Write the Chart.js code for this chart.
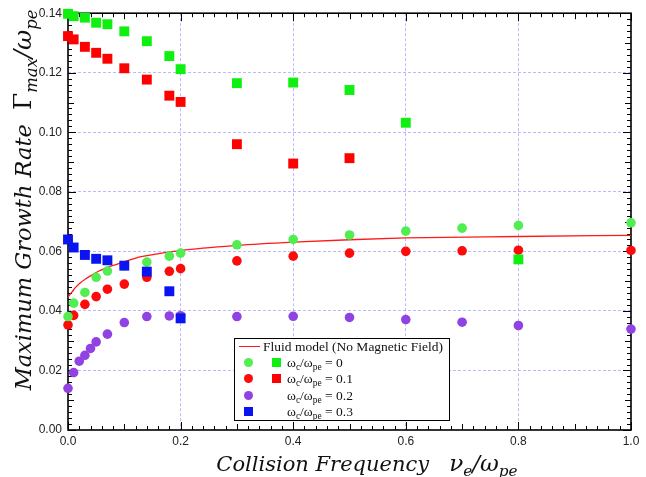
<!DOCTYPE html>
<html>
<head>
<meta charset="utf-8">
<title>Maximum growth rate vs collision frequency</title>
<script src="https://cdn.jsdelivr.net/npm/chart.js@4"></script>
<style>
  html, body { margin: 0; padding: 0; background: #fff; }
  #wrap { position: relative; width: 646px; height: 477px; overflow: hidden; }
  #growthChart { position: absolute; left: 0; top: 0; }
  .axisTitle {
    position: absolute; font-family: 'DejaVu Serif', serif; font-style: italic;
    color: #111; white-space: nowrap; text-align: center;
  }
  .axisTitle sub { font-size: 0.66em; vertical-align: -0.35em; }
  .axisTitle .m { font-size: 1.1em; }
  .up { font-style: normal; }
  #xTitle { left: 167px; top: 448px; width: 400px; height: 30px; line-height: 30px; font-size: 21px; }
  #yTitle { left: -177px; top: 184px; width: 400px; height: 32px; line-height: 32px; font-size: 22.5px; transform: rotate(-90deg); }
  #legend {
    position: absolute; left: 234px; top: 338px; width: 214px; height: 81px;
    border: 1.5px solid #000; background: #fff;
    font-family: 'Liberation Serif', serif; font-size: 13.5px; color: #111;
  }
  #legend .row { position: absolute; left: 0; height: 16px; line-height: 16px; white-space: nowrap; }
  #legend .txt { position: absolute; top: 0; }
  #legend .txt sub { font-size: 0.7em; vertical-align: -0.3em; }
  #legend .ln { position: absolute; left: 4px; top: 7px; width: 21px; height: 1.3px; background: #ff1a1a; }
  #legend .dot { position: absolute; width: 9px; height: 9px; border-radius: 50%; top: 3px; left: 9px; }
  #legend .sq { position: absolute; width: 9px; height: 9px; top: 3px; }
</style>
</head>
<body>
<div id="wrap">
  <canvas id="growthChart" width="646" height="477"></canvas>
  <div id="xTitle" class="axisTitle">Collision Frequency&nbsp;&nbsp;&nbsp;<span class="m">ν<sub>e</sub>/ω<sub>pe</sub></span></div>
  <div id="yTitle" class="axisTitle">Maximum Growth Rate&nbsp;&nbsp;<span class="m"><span class="up">Γ</span><sub>max</sub>/ω<sub>pe</sub></span></div>
  <div id="legend">
    <div class="row" style="top:0px"><div class="ln"></div><div class="txt" style="left:28px">Fluid model (No Magnetic Field)</div></div>
    <div class="row" style="top:16px"><div class="dot" style="background:#50ee50"></div><div class="sq" style="left:37px;background:#10f010"></div><div class="txt" style="left:52px">ω<sub>c</sub>/ω<sub>pe</sub> = 0</div></div>
    <div class="row" style="top:32px"><div class="dot" style="background:#ff0a0a"></div><div class="sq" style="left:37px;background:#ff0000"></div><div class="txt" style="left:52px">ω<sub>c</sub>/ω<sub>pe</sub> = 0.1</div></div>
    <div class="row" style="top:49px"><div class="dot" style="background:#9142e3"></div><div class="txt" style="left:52px">ω<sub>c</sub>/ω<sub>pe</sub> = 0.2</div></div>
    <div class="row" style="top:65px"><div class="sq" style="left:9px;background:#0a14f0"></div><div class="txt" style="left:52px">ω<sub>c</sub>/ω<sub>pe</sub> = 0.3</div></div>
  </div>
</div>
<script>
// Tick labels
const xTickValues = [0, 0.2, 0.4, 0.6, 0.8, 1.0];
const xTickLabels = ['0.0', '0.2', '0.4', '0.6', '0.8', '1.0'];
const yTickValues = [0, 0.02, 0.04, 0.06, 0.08, 0.10, 0.12, 0.14];
const yTickLabels = ['0.00', '0.02', '0.04', '0.06', '0.08', '0.10', '0.12', '0.14'];

// Fluid model curve (no magnetic field)
const fluidNu = [0, 0.007, 0.013, 0.022, 0.031, 0.043, 0.055, 0.066, 0.084, 0.1, 0.13, 0.2, 0.3, 0.4, 0.5, 0.6, 0.8, 1.0];
const fluidGamma = [0.0447, 0.0463, 0.0478, 0.0495, 0.0507, 0.0521, 0.0534, 0.0543, 0.0555, 0.0565, 0.0582, 0.0603, 0.0620, 0.0631, 0.0639, 0.0645, 0.0650, 0.0654];

// wc/wpe = 0, circles
const nuCirc0 = [0, 0.01, 0.03, 0.05, 0.07, 0.1, 0.14, 0.18, 0.2, 0.3, 0.4, 0.5, 0.6, 0.7, 0.8, 1.0];
const gammaCirc0 = [0.0381, 0.0426, 0.0462, 0.0513, 0.0534, 0.0551, 0.0564, 0.0584, 0.0594, 0.0622, 0.0640, 0.0655, 0.0668, 0.0678, 0.0687, 0.0696];
// wc/wpe = 0, squares
const nuSq0 = [0, 0.01, 0.03, 0.05, 0.07, 0.1, 0.14, 0.18, 0.2, 0.3, 0.4, 0.5, 0.6, 0.8];
const gammaSq0 = [0.1398, 0.1390, 0.1385, 0.1368, 0.1363, 0.1339, 0.1306, 0.1256, 0.1212, 0.1165, 0.1167, 0.1142, 0.1032, 0.0573];

// wc/wpe = 0.1, circles
const nuCirc1 = [0, 0.01, 0.03, 0.05, 0.07, 0.1, 0.14, 0.18, 0.2, 0.3, 0.4, 0.5, 0.6, 0.7, 0.8, 1.0];
const gammaCirc1 = [0.0353, 0.0385, 0.0422, 0.0448, 0.0473, 0.0490, 0.0513, 0.0533, 0.0542, 0.0568, 0.0584, 0.0594, 0.0600, 0.0602, 0.0604, 0.0603];
// wc/wpe = 0.1, squares
const nuSq1 = [0, 0.01, 0.03, 0.05, 0.07, 0.1, 0.14, 0.18, 0.2, 0.3, 0.4, 0.5];
const gammaSq1 = [0.1323, 0.1312, 0.1287, 0.1267, 0.1247, 0.1215, 0.1177, 0.1123, 0.1102, 0.0960, 0.0895, 0.0913];

// wc/wpe = 0.2, circles
const nuCirc2 = [0, 0.01, 0.02, 0.03, 0.04, 0.05, 0.07, 0.1, 0.14, 0.18, 0.2, 0.3, 0.4, 0.5, 0.6, 0.7, 0.8, 1.0];
const gammaCirc2 = [0.0140, 0.0193, 0.0231, 0.0251, 0.0274, 0.0296, 0.0322, 0.0361, 0.0381, 0.0383, 0.0384, 0.0381, 0.0382, 0.0378, 0.0371, 0.0362, 0.0351, 0.0339];

// wc/wpe = 0.3, squares
const nuSq3 = [0, 0.01, 0.03, 0.05, 0.07, 0.1, 0.14, 0.18, 0.2];
const gammaSq3 = [0.0640, 0.0613, 0.0588, 0.0575, 0.0570, 0.0552, 0.0532, 0.0466, 0.0375];

function pts(xs, ys) {
    return xs.map((x, i) => ({ x: x, y: ys[i] }));
}

function markers(label, xs, ys, color, style, order) {
    return {
        label: label,
        data: pts(xs, ys),
        pointStyle: style,
        pointRadius: style === 'rect' ? 7 : 4.8,
        pointBorderWidth: 0,
        backgroundColor: color,
        borderColor: color,
        showLine: false,
        clip: false,
        order: order
    };
}

// Frame with inward ticks on all four sides
const frameTicks = {
    id: 'frameTicks',
    beforeDatasetsDraw(chart) {
        const ctx = chart.ctx;
        const area = chart.chartArea;
        const xs = chart.scales.x;
        const ys = chart.scales.y;
        ctx.save();
        ctx.strokeStyle = '#000';
        ctx.lineWidth = 1;
        ctx.beginPath();
        for (let i = 0; i <= 50; i++) {
            const px = Math.round(xs.getPixelForValue(i / 50)) + 0.5;
            const len = i % 10 === 0 ? 8 : (i % 5 === 0 ? 6 : 4);
            ctx.moveTo(px, area.bottom); ctx.lineTo(px, area.bottom - len);
            ctx.moveTo(px, area.top); ctx.lineTo(px, area.top + len);
        }
        for (let j = 0; j <= 70; j++) {
            const py = Math.round(ys.getPixelForValue(j / 500)) + 0.5;
            const len = j % 10 === 0 ? 8 : (j % 5 === 0 ? 6 : 4);
            ctx.moveTo(area.left, py); ctx.lineTo(area.left + len, py);
            ctx.moveTo(area.right, py); ctx.lineTo(area.right - len, py);
        }
        ctx.stroke();
        ctx.lineWidth = 1.6;
        ctx.strokeRect(area.left, area.top, area.right - area.left, area.bottom - area.top);
        ctx.restore();
    }
};

const gridColor = 'rgba(140,140,255,0.6)';

new Chart(document.getElementById('growthChart'), {
    type: 'scatter',
    data: {
        datasets: [
            markers('wc/wpe = 0.3', nuSq3, gammaSq3, '#0a14f0', 'rect', 0),
            markers('wc/wpe = 0 (squares)', nuSq0, gammaSq0, '#10f010', 'rect', 1),
            markers('wc/wpe = 0.1 (squares)', nuSq1, gammaSq1, '#ff0000', 'rect', 2),
            markers('wc/wpe = 0.2', nuCirc2, gammaCirc2, '#9142e3', 'circle', 3),
            markers('wc/wpe = 0 (circles)', nuCirc0, gammaCirc0, '#50ee50', 'circle', 4),
            markers('wc/wpe = 0.1 (circles)', nuCirc1, gammaCirc1, '#ff0a0a', 'circle', 5),
            {
                label: 'Fluid model (No Magnetic Field)',
                data: pts(fluidNu, fluidGamma),
                showLine: true,
                borderColor: '#ff1a1a',
                borderWidth: 1.3,
                pointRadius: 0,
                cubicInterpolationMode: 'monotone',
                fill: false,
                order: 6
            }
        ]
    },
    options: {
        responsive: false,
        animation: false,
        events: [],
        layout: { padding: { top: 12, right: 15, left: 0, bottom: 0 } },
        plugins: {
            legend: { display: false },
            tooltip: { enabled: false }
        },
        scales: {
            x: {
                type: 'linear',
                min: 0,
                max: 1,
                afterFit: function (scale) { scale.height = 47; },
                afterBuildTicks: function (scale) {
                    scale.ticks = xTickValues.map(v => ({ value: v }));
                },
                ticks: {
                    padding: 4,
                    maxRotation: 0,
                    color: '#222',
                    font: { family: 'Liberation Sans', size: 12 },
                    callback: (v, i) => xTickLabels[i]
                },
                grid: {
                    drawTicks: false,
                    lineWidth: 1,
                    color: c => (c.tick && (c.tick.value === 0 || c.tick.value === 1)) ? 'rgba(0,0,0,0)' : gridColor
                },
                border: { display: false, dash: [3, 2] }
            },
            y: {
                type: 'linear',
                min: 0,
                max: 0.14,
                afterFit: function (scale) { scale.width = 68; },
                afterBuildTicks: function (scale) {
                    scale.ticks = yTickValues.map(v => ({ value: v }));
                },
                ticks: {
                    padding: 6,
                    color: '#222',
                    font: { family: 'Liberation Sans', size: 12 },
                    callback: (v, i) => yTickLabels[i]
                },
                grid: {
                    drawTicks: false,
                    lineWidth: 1,
                    color: c => (c.tick && (c.tick.value === 0 || c.tick.value === 0.14)) ? 'rgba(0,0,0,0)' : gridColor
                },
                border: { display: false, dash: [3, 2] }
            }
        }
    },
    plugins: [frameTicks]
});
</script>
</body>
</html>
